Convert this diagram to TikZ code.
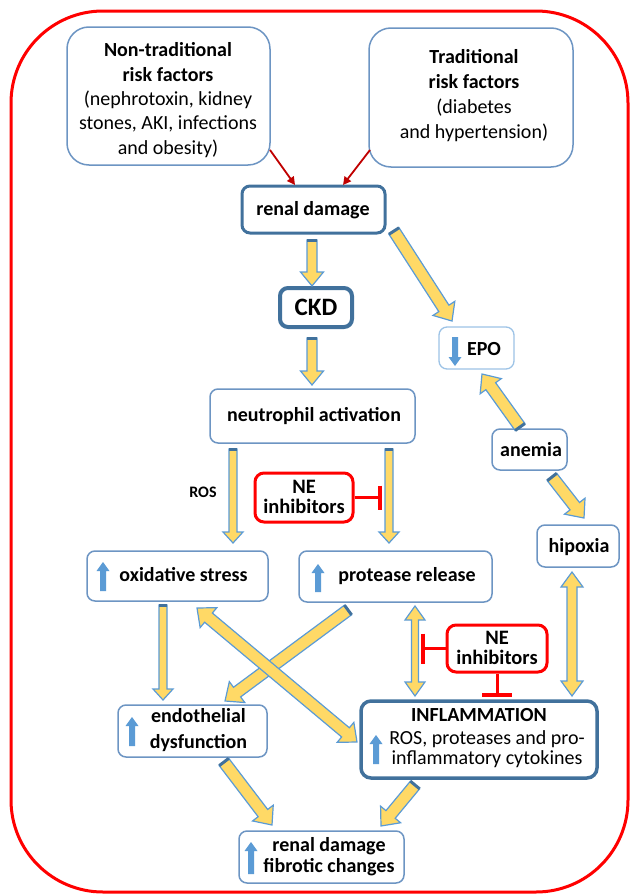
\documentclass[tikz,border=0pt]{standalone}
\usepackage{fontspec}
\setmainfont{Carlito}
\usetikzlibrary{calc,arrows.meta}
\definecolor{yel}{HTML}{FFD966}
\definecolor{yedge}{HTML}{5B9BD5}
\definecolor{ycap}{HTML}{41719C}
\definecolor{boxb}{HTML}{6D95C3}
\definecolor{boxdark}{HTML}{41719C}
\definecolor{epob}{HTML}{9DC3E6}
\definecolor{iconblue}{HTML}{5B9BD5}
\definecolor{redframe}{HTML}{FF0000}
\definecolor{darkred}{HTML}{C00000}
\tikzset{
 box/.style={draw=boxb, line width=1.5pt, rounded corners=8pt, fill=white, inner sep=0pt},
 thickbox/.style={box, draw=boxdark, line width=3pt},
 nebox/.style={draw=redframe, line width=3pt, rounded corners=9pt, inner sep=0pt},
 txt/.style={inner sep=0pt, align=center, font=\fontsize{20}{24.3}\selectfont},
 btxt/.style={inner sep=0pt, align=center, font=\fontsize{20}{24}\selectfont\bfseries},
 netxt/.style={inner sep=0pt, align=center, font=\fontsize{20.5}{20}\selectfont\bfseries},
 yarrow/.style={fill=yel, draw=yedge, line width=1.2pt, line join=miter},
 ycapst/.style={draw=ycap, line width=3pt},
 iconarr/.style={fill=iconblue, draw=none},
 inhib/.style={draw=redframe, line width=3pt},
 riskarr/.style={draw=darkred, line width=1.8pt, -{Triangle[length=8pt,width=8pt]}},
}
% single block arrow: tail, tip, half shaft, half head, head length
\newcommand{\yarr}[5]{%
 \coordinate (yaP) at ($(#2)!#5!(#1)$);
 \filldraw[yarrow] ($(#1)!#3!90:(#2)$) -- ($(yaP)!#3!90:(#2)$) -- ($(yaP)!#4!90:(#2)$) -- (#2) -- ($(yaP)!#4!-90:(#2)$) -- ($(yaP)!#3!-90:(#2)$) -- ($(#1)!#3!-90:(#2)$) -- cycle;
 \draw[ycapst] ($(#1)!#3!90:(#2)$) -- ($(#1)!#3!-90:(#2)$);
}
% double block arrow: tipA, tipB, half shaft, half head, head length
\newcommand{\ydarr}[5]{%
 \coordinate (yaP) at ($(#1)!#5!(#2)$);
 \coordinate (yaQ) at ($(#2)!#5!(#1)$);
 \filldraw[yarrow] (#1) -- ($(yaP)!#4!90:(#2)$) -- ($(yaP)!#3!90:(#2)$) -- ($(yaQ)!#3!90:(#2)$) -- ($(yaQ)!#4!90:(#2)$) -- (#2) -- ($(yaQ)!#4!-90:(#2)$) -- ($(yaQ)!#3!-90:(#2)$) -- ($(yaP)!#3!-90:(#2)$) -- ($(yaP)!#4!-90:(#2)$) -- cycle;
}
% icon arrow
\newcommand{\iarr}[2]{%
 \coordinate (yaP) at ($(#2)!9pt!(#1)$);
 \fill[iconarr] ($(#1)!3pt!90:(#2)$) -- ($(yaP)!3pt!90:(#2)$) -- ($(yaP)!6.5pt!90:(#2)$) -- (#2) -- ($(yaP)!6.5pt!-90:(#2)$) -- ($(yaP)!3pt!-90:(#2)$) -- ($(#1)!3pt!-90:(#2)$) -- cycle;
}
\begin{document}
\begin{tikzpicture}[x=1pt,y=-1pt]
\useasboundingbox (0,0) rectangle (630,894);
\draw[redframe, line width=3pt, rounded corners=92pt] (11,11) rectangle (628,892);

% boxes
\node[box, rounded corners=22pt, minimum width=203pt, minimum height=138pt] (nontrad) at (168.5,96) {};
\node[txt] (nontradt) at (168,100) {\textbf{Non-traditional}\\\textbf{risk factors}\\(nephrotoxin, kidney\\stones, AKI, infections\\and obesity)};
\node[box, rounded corners=22pt, minimum width=204pt, minimum height=139pt] (trad) at (471,97.5) {};
\node[txt, font=\fontsize{20}{25}\selectfont] (tradt) at (474,96) {\textbf{Traditional}\\\textbf{risk factors}\\(diabetes\\and hypertension)};

\node[thickbox, minimum width=143pt, minimum height=47pt] (renal) at (313.5,209.5) {};
\node[btxt] (renalt) at (313,210) {renal damage};

\node[thickbox, line width=4pt, minimum width=72pt, minimum height=39pt] (ckd) at (316,307.5) {};
\node[btxt, font=\fontsize{25}{25}\selectfont\bfseries] (ckdt) at (316,307.5) {CKD};

\node[box, draw=epob, line width=1.3pt, minimum width=75pt, minimum height=42pt] (epo) at (476.5,348) {};
\node[btxt] (epot) at (484,349) {EPO};

\node[box, minimum width=205pt, minimum height=54pt] (neut) at (312.5,416) {};
\node[btxt] (neutt) at (314,416) {neutrophil activation};

\node[box, minimum width=75pt, minimum height=41pt] (anemia) at (529.5,449.5) {};
\node[btxt] (anemiat) at (531,450) {anemia};

\node[box, minimum width=82pt, minimum height=42pt] (hipoxia) at (578,546) {};
\node[btxt] (hipoxiat) at (579,547) {hipoxia};

\node[nebox, minimum width=98pt, minimum height=49pt] (ne1) at (304,497.5) {};
\node[netxt] (ne1t) at (304,497) {NE\\inhibitors};

\node[font=\fontsize{16}{16}\selectfont\bfseries, inner sep=0pt] (ros) at (203,492) {ROS};

\node[box, minimum width=181pt, minimum height=50pt] (ox) at (177.5,576) {};
\node[btxt] (oxt) at (183.5,575) {oxidative stress};

\node[box, minimum width=193pt, minimum height=51pt] (prot) at (395.5,576.5) {};
\node[btxt] (prott) at (407,576) {protease release};

\node[box, minimum width=149pt, minimum height=52pt] (endo) at (192.5,731) {};
\node[btxt, font=\fontsize{20}{25.5}\selectfont\bfseries] (endot) at (198.5,730) {endothelial\\dysfunction};

\node[nebox, minimum width=100pt, minimum height=47pt] (ne2) at (497,648.5) {};
\node[netxt] (ne2t) at (497,648) {NE\\inhibitors};

\node[thickbox, line width=3.5pt, rounded corners=10pt, minimum width=236pt, minimum height=77pt] (infl) at (479,739.5) {};
\node[btxt] (inflt) at (479,715) {INFLAMMATION};
\node[txt, font=\fontsize{20}{20.5}\selectfont] (inflb) at (487,749) {ROS, proteases and pro-\\inflammatory cytokines};

\node[box, minimum width=165pt, minimum height=52pt] (fib) at (321.5,857) {};
\node[btxt, font=\fontsize{20}{21}\selectfont\bfseries] (fibt) at (329,857) {renal damage\\fibrotic changes};

% red risk arrows
\coordinate (r1s) at (270,150); \coordinate (r1e) at (295,185);
\coordinate (r2s) at (370,150); \coordinate (r2e) at (343,185);
\draw[riskarr] (r1s) -- (r1e);
\draw[riskarr] (r2s) -- (r2e);

% yellow arrows
\coordinate (a1s) at (312,240); \coordinate (a1e) at (312,286);
\yarr{a1s}{a1e}{5pt}{11.5pt}{14pt}
\coordinate (a2s) at (312,338); \coordinate (a2e) at (312,385);
\yarr{a2s}{a2e}{5pt}{11.5pt}{14pt}
\coordinate (a3s) at (394,231); \coordinate (a3e) at (452,321);
\yarr{a3s}{a3e}{6pt}{13pt}{15pt}
\coordinate (a4s) at (520,427); \coordinate (a4e) at (482,374);
\yarr{a4s}{a4e}{6pt}{13pt}{15pt}
\coordinate (a5s) at (552,477); \coordinate (a5e) at (584,518);
\yarr{a5s}{a5e}{6pt}{13pt}{15pt}
\coordinate (a6s) at (233,449); \coordinate (a6e) at (233,543);
\yarr{a6s}{a6e}{4pt}{10pt}{11pt}
\coordinate (a7s) at (389,449); \coordinate (a7e) at (389,543);
\yarr{a7s}{a7e}{4pt}{10pt}{11pt}
\coordinate (a8s) at (163,605); \coordinate (a8e) at (163,700);
\yarr{a8s}{a8e}{4pt}{10pt}{11pt}
\coordinate (a9s) at (348,610); \coordinate (a9e) at (225,701);
\yarr{a9s}{a9e}{6pt}{13pt}{15pt}
\coordinate (a10s) at (197,608); \coordinate (a10e) at (357,742);
\ydarr{a10s}{a10e}{6pt}{13pt}{15pt}
\coordinate (a11s) at (415,606); \coordinate (a11e) at (415,696);
\ydarr{a11s}{a11e}{3.5pt}{10pt}{14pt}
\coordinate (a12s) at (572,572); \coordinate (a12e) at (572,696);
\ydarr{a12s}{a12e}{5pt}{11pt}{15pt}
\coordinate (a13s) at (224,762); \coordinate (a13e) at (272,825);
\yarr{a13s}{a13e}{6pt}{13pt}{15pt}
\coordinate (a14s) at (415,785); \coordinate (a14e) at (381,826);
\yarr{a14s}{a14e}{6pt}{13pt}{15pt}

% blue icon arrows
\coordinate (i1s) at (455,337); \coordinate (i1e) at (455,366);
\iarr{i1s}{i1e}
\coordinate (i2s) at (103,591); \coordinate (i2e) at (103,562);
\iarr{i2s}{i2e}
\coordinate (i3s) at (318,592); \coordinate (i3e) at (318,564);
\iarr{i3s}{i3e}
\coordinate (i4s) at (132,746); \coordinate (i4e) at (132,717);
\iarr{i4s}{i4e}
\coordinate (i5s) at (376,764); \coordinate (i5e) at (376,735);
\iarr{i5s}{i5e}
\coordinate (i6s) at (251,874); \coordinate (i6e) at (251,842);
\iarr{i6s}{i6e}

% inhibition connectors
\coordinate (inh1) at (380,497.5);
\draw[inhib] (ne1.east) -- (inh1);
\draw[inhib, line width=4pt] ($(inh1)+(0,-12)$) -- ($(inh1)+(0,12)$);
\coordinate (inh2) at (423,648.5);
\draw[inhib] (ne2.west) -- (inh2);
\draw[inhib, line width=4pt] ($(inh2)+(0,-15)$) -- ($(inh2)+(0,15)$);
\coordinate (inh3) at (497,695);
\draw[inhib] (ne2.south) -- (inh3);
\draw[inhib, line width=4pt] ($(inh3)+(-15,0)$) -- ($(inh3)+(15,0)$);
\end{tikzpicture}
\end{document}
